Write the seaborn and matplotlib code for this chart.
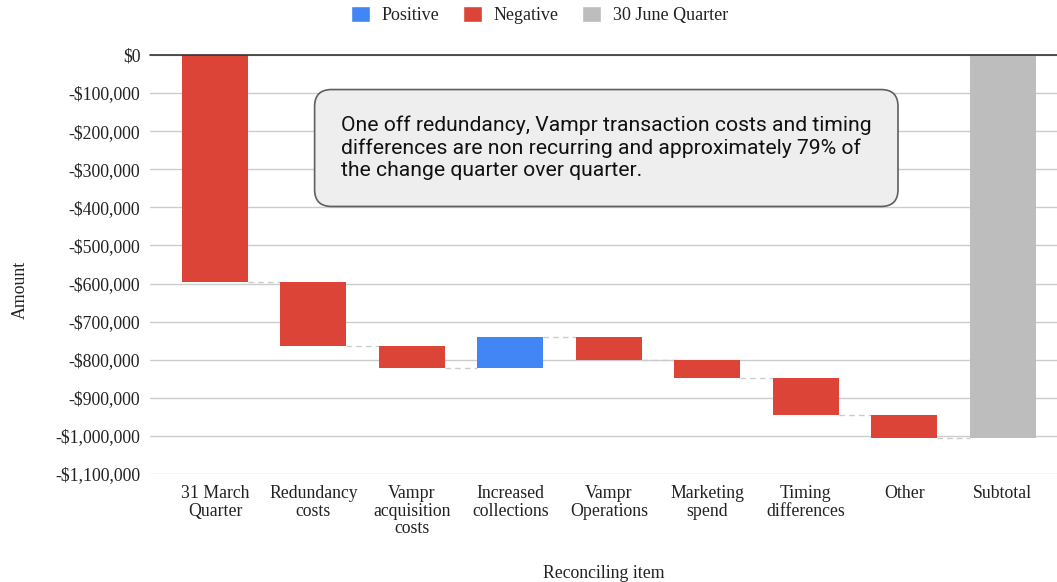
import matplotlib
matplotlib.use("Agg")
import matplotlib.pyplot as plt
from matplotlib.patches import Patch
from matplotlib.ticker import FuncFormatter
import numpy as np
import pandas as pd
import seaborn as sns

# waterfall data
items = ["31 March\nQuarter", "Redundancy\ncosts", "Vampr\nacquisition\ncosts",
         "Increased\ncollections", "Vampr\nOperations", "Marketing\nspend",
         "Timing\ndifferences", "Other", "Subtotal"]
changes = [-595000, -169000, -58000, 81000, -61000, -47000, -97000, -59000]
yticks = list(range(0, -1200000, -100000))

BLUE = "#4285F4"
RED = "#DB4437"
GREY = "#BDBDBD"

ends = np.cumsum(changes)
starts = np.concatenate([[0], ends[:-1]])
total = ends[-1]

df = pd.DataFrame({
    "item": items,
    "start": list(starts) + [0],
    "end": list(ends) + [total],
})
df["height"] = df["end"] - df["start"]
colors = [BLUE if c > 0 else RED for c in changes] + [GREY]

sns.set_style("white")
plt.rcParams["font.family"] = ["Liberation Serif", "DejaVu Serif"]

fig = plt.figure(figsize=(10.57, 5.82), dpi=100)
ax = fig.add_axes([150 / 1057, 1 - 474 / 582, 1 - 150 / 1057, (474 - 55) / 582])

sns.barplot(data=df, x="item", y="height", bottom=df["start"].to_numpy(),
            order=items, errorbar=None, width=0.67, color=RED, ax=ax, zorder=3)
for patch, c in zip(ax.patches, colors):
    patch.set_facecolor(c)
    patch.set_edgecolor("none")

# dashed connectors between consecutive bars
for i in range(len(items) - 1):
    lvl = df["end"].iloc[i]
    ax.plot([i + 0.335, i + 1 - 0.335], [lvl, lvl], ls=(0, (4, 3)),
            color="#cccccc", lw=1, zorder=2)

ax.set_xlim(-0.66, 8.55)
ax.set_ylim(-1100000, 0)
ax.set_yticks(yticks)
ax.yaxis.set_major_formatter(FuncFormatter(
    lambda v, p: "$0" if v == 0 else f"-${abs(int(v)):,}"))
ax.grid(axis="y", color="#cccccc", lw=1, zorder=0)
ax.axhline(0, color="#333333", lw=1.2, zorder=4, clip_on=False)
for s in ax.spines.values():
    s.set_visible(False)
ax.tick_params(axis="both", length=0, labelsize=12.8, colors="#222222")
ax.tick_params(axis="y", pad=7)
ax.tick_params(axis="x", pad=8)
for lbl in ax.get_xticklabels():
    lbl.set_linespacing(1.05)

ax.set_xlabel("Reconciling item", fontsize=12.8, color="#222222")
ax.xaxis.set_label_coords(0.5, -0.217)
ax.xaxis.label.set_va("top")
ax.set_ylabel("Amount", fontsize=12.8, color="#222222")
ax.yaxis.set_label_coords((20 - 150) / 907, 0.439)
ax.yaxis.label.set_va("center")

handles = [Patch(facecolor=BLUE, label="Positive"),
           Patch(facecolor=RED, label="Negative"),
           Patch(facecolor=GREY, label="30 June Quarter")]
fig.legend(handles=handles, loc="center", bbox_to_anchor=(539.5 / 1057, 1 - 15 / 582),
           ncol=3, frameon=False, fontsize=13, handlelength=1.05,
           handleheight=1.05, columnspacing=1.3, handletextpad=0.65,
           labelcolor="#222222")

fig.text(341 / 1057, 1 - 148 / 582,
         "One off redundancy, Vampr transaction costs and timing\n"
         "differences are non recurring and approximately 79% of\n"
         "the change quarter over quarter.",
         ha="left", va="center", fontsize=15.2, family=["Roboto", "DejaVu Sans"],
         linespacing=1.2, color="#111111", zorder=10,
         bbox=dict(boxstyle="round,pad=1.25,rounding_size=0.8",
                   facecolor="#eeeeee", edgecolor="#5f5f5f", lw=1.2))

fig.savefig("out.png", dpi=100)
